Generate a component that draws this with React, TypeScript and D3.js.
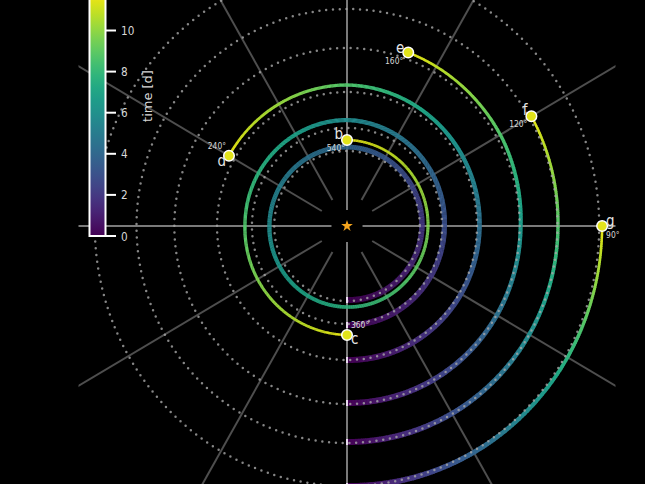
import React from "react";
import * as d3 from "d3";

// ---- data ----
const planets = ["b", "c", "d", "e", "f", "g"];
const sweepDeg = [540, 360, 240, 160, 120, 90];
const angleLabels = ["540°", "360°", "240°", "160°", "120°", "90°"];
const orbitRadius = [0.75, 0.98, 1.34, 1.78, 2.17, 2.6];
// key angles (deg) and track radii
const trackAngles = [
  [0, 90, 180, 270, 360, 450, 540],
  [0, 90, 180, 270, 360],
  [0, 90, 180, 240],
  [0, 90, 118, 160],
  [0, 60, 90, 120],
  [0, 56, 90],
];
const trackRadii = [
  [0.74, 0.773, 0.79, 0.8, 0.81, 0.835, 0.86],
  [0.99, 1.004, 1.06, 1.052, 1.09],
  [1.34, 1.365, 1.41, 1.405],
  [1.77, 1.79, 1.824, 1.846],
  [2.16, 2.17, 2.175, 2.195],
  [2.6, 2.625, 2.63],
];
const tEnd = 11.6;
const colorbarTicks = [0, 2, 4, 6, 8, 10];
const colorMax = 12;
const spokeAngles = d3.range(0, 360, 30);
const axisLimit = 2.768;

// ---- layout ----
const W = 645, H = 484;
const cx = 347, cy = 226;
const labelLayout = [
  { lx: -4, ly: -1, la: "end", ax: -2, ay: 11, aa: "end" },
  { lx: 4, ly: 9, la: "start", ax: 4, ay: -7, aa: "start" },
  { lx: -3, ly: 10, la: "end", ax: -3, ay: -7, aa: "end" },
  { lx: -4, ly: 0, la: "end", ax: -5, ay: 11, aa: "end" },
  { lx: -4, ly: -1, la: "end", ax: -4, ay: 11, aa: "end" },
  { lx: 4, ly: 0, la: "start", ax: 4, ay: 12, aa: "start" },
];

// slightly unequal aspect, as in the picture
const xScale = d3.scaleLinear().domain([-axisLimit, axisLimit]).range([cx - axisLimit * 97, cx + axisLimit * 97]);
const yScale = d3.scaleLinear().domain([-axisLimit, axisLimit]).range([cy + axisLimit * 100, cy - axisLimit * 100]);
const color = d3.scaleSequential(d3.interpolateViridis).domain([0, colorMax]);
const cbY = d3.scaleLinear().domain([0, colorMax]).range([236, 236 - colorMax * 20.55]);

// theta measured from "down", counter-clockwise on screen
function pos(thetaDeg: number, r: number) {
  const t = (thetaDeg * Math.PI) / 180;
  return [xScale(r * Math.sin(t)), yScale(-r * Math.cos(t))];
}

const FONT = "DejaVu Sans, Verdana, sans-serif";

function CondText({ x, y, anchor, size, fill, children }: any) {
  return (
    <g transform={`translate(${x},${y}) scale(0.84,1)`}>
      <text x={0} y={0} textAnchor={anchor} fontSize={size} fill={fill} fontFamily={FONT}>
        {children}
      </text>
    </g>
  );
}

export default function App() {
  const tracks = planets.map((p, i) => {
    const sweep = sweepDeg[i];
    const rOf = d3.scaleLinear().domain(trackAngles[i]).range(trackRadii[i]);
    const tOf = d3.scaleLinear().domain([0, sweep]).range([0, tEnd]);
    const wOf = d3.scaleLinear().domain([0, tEnd]).range([6, 2.4]);
    const steps = d3.range(0, sweep + 0.001, 0.5);
    const segs = [];
    for (let k = 0; k < steps.length - 1; k++) {
      const a = steps[k], b = steps[k + 1];
      const b2 = Math.min(b + 0.15, sweep);
      const [x1, y1] = pos(a, rOf(a));
      const [x2, y2] = pos(b2, rOf(b2));
      const tm = tOf((a + b) / 2);
      segs.push(
        <line key={k} x1={x1} y1={y1} x2={x2} y2={y2} stroke={color(tm)} strokeWidth={wOf(tm)} />
      );
    }
    const [sx, sy] = pos(0, rOf(0));
    const [ex, ey] = pos(sweep, rOf(sweep));
    return { segs, sx, sy, ex, ey, w0: wOf(0) };
  });

  const stops = d3.range(0, 1.0001, 0.05);
  const x0 = xScale(-axisLimit), x1 = xScale(axisLimit);
  const y0 = yScale(axisLimit), y1 = yScale(-axisLimit);

  return (
    <svg
      width={W}
      height={H}
      style={{ position: "absolute", left: 0, top: 0, background: "#000" }}
    >
      <defs>
        <clipPath id="box">
          <rect x={x0} y={y0} width={x1 - x0} height={y1 - y0} />
        </clipPath>
        <linearGradient id="cbar" x1="0" y1="1" x2="0" y2="0">
          {stops.map((s) => (
            <stop key={s} offset={s} stopColor={d3.interpolateViridis(s)} />
          ))}
        </linearGradient>
      </defs>
      <rect x={0} y={0} width={W} height={H} fill="#000" />
      <g clipPath="url(#box)">
        {spokeAngles.map((a) => {
          const axis = a % 90 === 0;
          const r0 = axis ? 0.16 : 0.3;
          const rad = (a * Math.PI) / 180;
          return (
            <line
              key={a}
              x1={xScale(r0 * Math.cos(rad))}
              y1={yScale(r0 * Math.sin(rad))}
              x2={xScale(5 * Math.cos(rad))}
              y2={yScale(5 * Math.sin(rad))}
              stroke={axis ? "#7a7a7a" : "#4e4e4e"}
              strokeWidth={2}
            />
          );
        })}
        {tracks.map((t, i) => (
          <g key={planets[i]}>{t.segs}</g>
        ))}
        {orbitRadius.map((r, i) => (
          <ellipse
            key={i}
            cx={xScale(0)}
            cy={yScale(0)}
            rx={xScale(r) - xScale(0)}
            ry={yScale(0) - yScale(r)}
            fill="none"
            stroke="#a8a8a8"
            strokeOpacity={0.8}
            strokeWidth={2.5}
            strokeDasharray="0 6.8"
            strokeLinecap="round"
          />
        ))}
        {tracks.map((t, i) => (
          <line
            key={"s" + i}
            x1={t.sx}
            y1={t.sy - t.w0 / 2}
            x2={t.sx}
            y2={t.sy + t.w0 / 2}
            stroke="#eadcf0"
            strokeWidth={2}
          />
        ))}
      </g>
      <path
        d={d3.symbol(d3.symbolStar, 42)() as string}
        transform={`translate(${cx},${cy})`}
        fill="#f5a51e"
      />
      {tracks.map((t, i) => {
        const L = labelLayout[i];
        return (
          <g key={"m" + i}>
            <circle cx={t.ex} cy={t.ey} r={5.3} fill="#e2e31a" stroke="#ffffff" strokeWidth={1.5} />
            <CondText x={t.ex + L.lx} y={t.ey + L.ly} anchor={L.la} size={16} fill="#e6e6e6">
              {planets[i]}
            </CondText>
            <CondText x={t.ex + L.ax} y={t.ey + L.ay} anchor={L.aa} size={9} fill="#d8d8d8">
              {angleLabels[i]}
            </CondText>
          </g>
        );
      })}
      {/* colorbar */}
      <rect
        x={89.5}
        y={cbY(colorMax)}
        width={16}
        height={cbY(0) - cbY(colorMax)}
        fill="url(#cbar)"
        stroke="#ffffff"
        strokeWidth={2}
      />
      {colorbarTicks.map((v) => (
        <g key={v}>
          <line x1={105.5} x2={116} y1={cbY(v)} y2={cbY(v)} stroke="#ffffff" strokeWidth={2} />
          <CondText x={121} y={cbY(v) + 4.5} anchor="start" size={12.5} fill="#d8d8d8">
            {String(v)}
          </CondText>
        </g>
      ))}
      <text
        transform={`translate(152,96) rotate(-90)`}
        textAnchor="middle"
        fontSize={13}
        fill="#d8d8d8"
        fontFamily={FONT}
      >
        time [d]
      </text>
    </svg>
  );
}
